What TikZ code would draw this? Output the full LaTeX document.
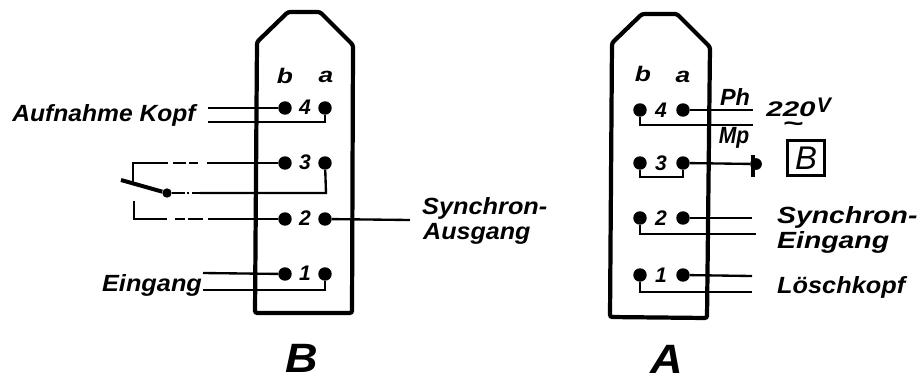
\documentclass[tikz,border=0pt]{standalone}
\usepackage{fontspec}
\setmainfont{Liberation Sans}
\usepackage{tikz}
\usetikzlibrary{positioning}
\newcommand{\lbl}[2][1.1]{\scalebox{#1}[1]{#2}}
\tikzset{
  pin/.style={circle, fill=black, inner sep=0pt, minimum size=11.5pt},
  wire/.style={line width=2pt},
  case/.style={line width=3.6pt, rounded corners=2pt},
  txt/.style={inner sep=0pt, font=\fontsize{20}{20}\selectfont\bfseries\itshape},
  num/.style={inner sep=0pt, font=\fontsize{18}{18}\selectfont\bfseries\itshape},
  big/.style={inner sep=0pt, font=\fontsize{35}{35}\selectfont\bfseries\itshape}
}
\begin{document}
\begin{tikzpicture}[x=0.03cm, y=-0.03cm]
\useasboundingbox (0,0) rectangle (923,378);

% left plug
\draw[case] (255,313) -- (257,42) -- (288,12) -- (320,12) -- (353,45) -- (352,313) -- cycle;
\foreach \row/\yy in {4/108, 3/163, 2/219, 1/274} {
  \node[pin] (Bb\row) at (285,\yy) {};
  \node[pin] (Ba\row) at (325,\yy) {};
  \node[num] at (305,\yy-1) {\lbl[1]{\row}};
}
\node[num] at (285,76) {\lbl[1.25]{b}};
\node[num] at (326,77) {\lbl[1.25]{a}};

\coordinate (kopf1) at (208,108);
\coordinate (kopf2) at (208,122);
\draw[wire] (kopf1) -- (Bb4);
\draw[wire] (Ba4) |- (kopf2);
\node[txt] (kopf) at (104,115) {\lbl[1.05]{Aufnahme Kopf}};

\coordinate (top1) at (133,185);
\coordinate (top2) at (168,163);
\coordinate (top3) at (173,163);
\coordinate (top4) at (198,163);
\coordinate (top5) at (207,163);
\draw[wire] (top1) |- (top2);
\draw[wire, dash pattern=on 11.5pt off 2.5pt on 7pt off 3pt] (top3) -- (top4);
\draw[wire] (top5) -- (Bb3);

\coordinate (arm) at (121,180);
\node[circle, fill=black, inner sep=0pt, minimum size=8pt] (swdot) at (167,193) {};
\coordinate (mid1) at (200,193);
\coordinate (mid2) at (326,193);
\draw[line width=3.4pt] (arm) -- (swdot);
\draw[wire, dash pattern=on 11pt off 2pt on 2pt off 2pt] (swdot) -- (mid1);
\draw[wire] (mid1) -- (mid2) -- (Ba3);

\coordinate (low1) at (134,201);
\coordinate (low2) at (167,219);
\coordinate (low3) at (175,219);
\coordinate (low4) at (203,219);
\coordinate (low5) at (208,219);
\draw[wire] (low1) |- (low2);
\draw[wire, dash pattern=on 8.5pt off 2.5pt on 13pt off 3pt] (low3) -- (low4);
\draw[wire] (low5) -- (Bb2);

\coordinate (sync) at (410,220);
\draw[wire] (Ba2) -- (sync);
\node[txt, anchor=west] (syncB1) at (422,208) {\lbl[1.08]{Synchron-}};
\node[txt, anchor=west] (syncB2) at (423,234) {\lbl[1.07]{Ausgang}};

\coordinate (ein1) at (203,273);
\coordinate (ein2) at (203,290);
\draw[wire] (ein1) -- (Bb1);
\draw[wire] (Ba1) |- (ein2);
\node[txt] (ein) at (152,285) {\lbl[1.08]{Eingang}};

\node[big] (nameB) at (302,358) {\lbl[1.1]{B}};

% right plug
\draw[case] (610,317) -- (612,43) -- (642,14) -- (677,14) -- (710,47) -- (707,318) -- cycle;
\foreach \row/\yy in {4/110, 3/163, 2/218, 1/275} {
  \node[pin] (Ab\row) at (640,\yy) {};
  \node[pin] (Aa\row) at (683,\yy) {};
  \node[num] at (661,\yy) {\lbl[1]{\row}};
}
\node[num] at (643,74) {\lbl[1.25]{b}};
\node[num] at (683,77) {\lbl[1.25]{a}};

\coordinate (ph) at (753,110);
\coordinate (mp) at (753,125);
\draw[wire] (Aa4) -- (ph);
\draw[wire] (Ab4) |- (mp);
\node[txt] (phtxt) at (735,97) {\lbl[1]{Ph}};
\node[txt] (mptxt) at (734,138) {\lbl[0.9]{Mp}};
\node[num] (volt) at (791,109) {\lbl[1.4]{220}};
\node[num] (vtxt) at (824,105) {\lbl[1]{V}};
\node[txt] (wave) at (793,127) {\lbl[1.5]{\textasciitilde}};

\node[circle, fill=black, inner sep=0pt, minimum size=10pt] (plug) at (756,164) {};
\coordinate (plug1) at (753,155);
\coordinate (plug2) at (753,177);
\draw[wire] (Aa3) -- (plug);
\draw[line width=3.4pt] (plug1) -- (plug2);
\coordinate (bridge) at (662,177);
\draw[wire] (Ab3) |- (bridge) -| (Aa3);
\node[draw, line width=2.4pt, minimum width=31pt, minimum height=30pt, inner sep=0pt,
  font=\fontsize{28}{28}\selectfont\itshape] (boxB) at (806,158) {B};

\coordinate (syn1) at (752,218);
\coordinate (syn2) at (756,234);
\draw[wire] (Aa2) -- (syn1);
\draw[wire] (Ab2) |- (syn2);
\node[txt, anchor=west] (syncA1) at (777,217) {\lbl[1.21]{Synchron-}};
\node[txt, anchor=west] (syncA2) at (777,242) {\lbl[1.21]{Eingang}};

\coordinate (los1) at (752,276);
\coordinate (los2) at (752,292);
\draw[wire] (Aa1) -- (los1);
\draw[wire] (Ab1) |- (los2);
\node[txt, anchor=west] (lostxt) at (777,287) {\lbl[1.08]{Löschkopf}};

\node[big] (nameA) at (667,359) {\lbl[1.1]{A}};

\end{tikzpicture}
\end{document}
